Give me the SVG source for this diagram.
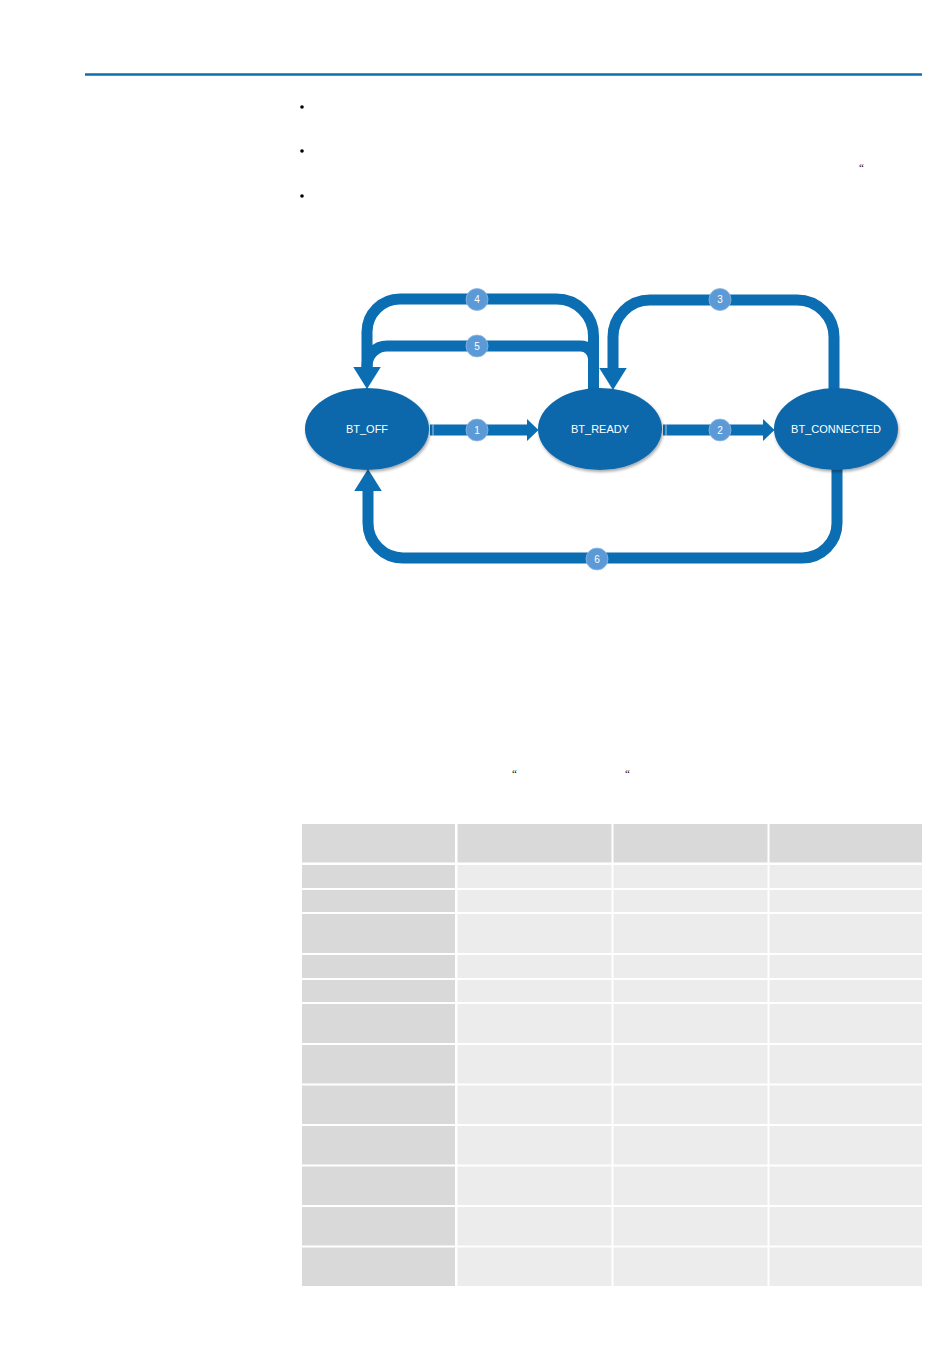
<svg xmlns="http://www.w3.org/2000/svg" width="950" height="1369" viewBox="0 0 950 1369">
<style>
.conn{fill:none;stroke:#0b6db2;stroke-width:11;stroke-linecap:butt}
.state{fill:#0a68ab}
.stxt{font-family:"Liberation Sans",Arial,sans-serif;font-size:11px;fill:#ffffff;text-anchor:middle}
.lbl{fill:#5b9ad6;stroke:#8fb8e3;stroke-width:0.8}
.ltxt{font-family:"Liberation Sans",Arial,sans-serif;font-size:10px;fill:#ffffff;text-anchor:middle}
.hd{fill:#d9d9d9}
.cell{fill:#ececec}
.bul{fill:#000000}
.q{font-family:"Liberation Serif","Times New Roman",serif;font-size:11px;fill:#000000}
</style>
<defs>
<marker id="headV" markerUnits="userSpaceOnUse" markerWidth="22" markerHeight="28" refX="0" refY="12.5" orient="auto" viewBox="0 0 20 25">
<path d="M0,0 L20,12.5 L0,25 Z" fill="#0b6db2"/>
</marker>
<marker id="headH" markerUnits="userSpaceOnUse" markerWidth="12" markerHeight="22" refX="0" refY="10.5" orient="auto" viewBox="0 0 11 21">
<path d="M0,0 L11,10.5 L0,21 Z" fill="#0b6db2"/>
</marker>
<filter id="sh" x="-20%" y="-20%" width="140%" height="150%">
<feGaussianBlur in="SourceAlpha" stdDeviation="1.5"/>
<feOffset dx="1" dy="2" result="b"/>
<feComponentTransfer><feFuncA type="linear" slope="0.35"/></feComponentTransfer>
<feMerge><feMergeNode/><feMergeNode in="SourceGraphic"/></feMerge>
</filter>
</defs>
<rect width="950" height="1369" fill="#ffffff"/>
<line x1="85" y1="74.5" x2="922" y2="74.5" stroke="#0e6db0" stroke-width="2.6"/>
<g id="bullets">
<circle class="bul" cx="302" cy="107" r="1.8"/>
<circle class="bul" cx="302" cy="151" r="1.8"/>
<circle class="bul" cx="302" cy="196" r="1.8"/>
<text class="q" x="859" y="171">“</text>
<text class="q" x="512" y="777">“</text>
<text class="q" x="625" y="777">“</text>
</g>
<g id="connectors">
<path class="conn" d="M593.5,390 L593.5,336 A37,37 0 0 0 556.5,299 L400,299 A33,33 0 0 0 367,332 L367,367" marker-end="url(#headV)"/>
<path class="conn" d="M593.5,390 L593.5,359 A13,13 0 0 0 580.5,346 L387,346 A20,20 0 0 0 367,366 L367,367"/>
<path class="conn" d="M834,389 L834,337 A37,37 0 0 0 797,300 L650,300 A37,37 0 0 0 613,337 L613,368" marker-end="url(#headV)"/>
<path class="conn" d="M837,468 L837,523 A35,35 0 0 1 802,558 L403,558 A35,35 0 0 1 368,523 L368,491" marker-end="url(#headV)"/>
<path class="conn" d="M430,430 L527,430" marker-end="url(#headH)"/>
<path class="conn" d="M663,430 L763,430" marker-end="url(#headH)"/>
<line x1="433" y1="424.5" x2="433" y2="435.5" stroke="#ffffff" stroke-width="0.8" opacity="0.8"/>
<line x1="666" y1="424.5" x2="666" y2="435.5" stroke="#ffffff" stroke-width="0.8" opacity="0.8"/>
</g>
<g id="BT_OFF">
<ellipse class="state" cx="367" cy="429" rx="62" ry="41" filter="url(#sh)"/>
<text class="stxt" x="367" y="433">BT_OFF</text>
</g>
<g id="BT_READY">
<ellipse class="state" cx="600" cy="429" rx="62" ry="41" filter="url(#sh)"/>
<text class="stxt" x="600" y="433">BT_READY</text>
</g>
<g id="BT_CONNECTED">
<ellipse class="state" cx="836" cy="429" rx="62" ry="41" filter="url(#sh)"/>
<text class="stxt" x="836" y="433">BT_CONNECTED</text>
</g>
<g id="labels">
<g id="label1"><circle class="lbl" cx="477" cy="430" r="11"/><text class="ltxt" x="477" y="433.5">1</text></g>
<g id="label2"><circle class="lbl" cx="720" cy="430" r="11"/><text class="ltxt" x="720" y="433.5">2</text></g>
<g id="label3"><circle class="lbl" cx="720" cy="299.5" r="11"/><text class="ltxt" x="720" y="303">3</text></g>
<g id="label4"><circle class="lbl" cx="477" cy="299.5" r="11"/><text class="ltxt" x="477" y="303">4</text></g>
<g id="label5"><circle class="lbl" cx="477" cy="346" r="11"/><text class="ltxt" x="477" y="349.5">5</text></g>
<g id="label6"><circle class="lbl" cx="597" cy="559" r="11"/><text class="ltxt" x="597" y="562.5">6</text></g>
</g>
<g id="table">
<rect class="hd" x="302" y="824" width="153" height="38.5"/>
<rect class="hd" x="457.5" y="824" width="154" height="38.5"/>
<rect class="hd" x="613.5" y="824" width="154" height="38.5"/>
<rect class="hd" x="769.5" y="824" width="152.5" height="38.5"/>
<g id="rows">
<rect class="hd" x="302" y="865" width="153" height="23"/><rect class="cell" x="457.5" y="865" width="154" height="23"/><rect class="cell" x="613.5" y="865" width="154" height="23"/><rect class="cell" x="769.5" y="865" width="152.5" height="23"/>
<rect class="hd" x="302" y="890" width="153" height="22"/><rect class="cell" x="457.5" y="890" width="154" height="22"/><rect class="cell" x="613.5" y="890" width="154" height="22"/><rect class="cell" x="769.5" y="890" width="152.5" height="22"/>
<rect class="hd" x="302" y="914" width="153" height="39"/><rect class="cell" x="457.5" y="914" width="154" height="39"/><rect class="cell" x="613.5" y="914" width="154" height="39"/><rect class="cell" x="769.5" y="914" width="152.5" height="39"/>
<rect class="hd" x="302" y="955" width="153" height="23"/><rect class="cell" x="457.5" y="955" width="154" height="23"/><rect class="cell" x="613.5" y="955" width="154" height="23"/><rect class="cell" x="769.5" y="955" width="152.5" height="23"/>
<rect class="hd" x="302" y="980" width="153" height="22"/><rect class="cell" x="457.5" y="980" width="154" height="22"/><rect class="cell" x="613.5" y="980" width="154" height="22"/><rect class="cell" x="769.5" y="980" width="152.5" height="22"/>
<rect class="hd" x="302" y="1004" width="153" height="39"/><rect class="cell" x="457.5" y="1004" width="154" height="39"/><rect class="cell" x="613.5" y="1004" width="154" height="39"/><rect class="cell" x="769.5" y="1004" width="152.5" height="39"/>
<rect class="hd" x="302" y="1045" width="153" height="38.5"/><rect class="cell" x="457.5" y="1045" width="154" height="38.5"/><rect class="cell" x="613.5" y="1045" width="154" height="38.5"/><rect class="cell" x="769.5" y="1045" width="152.5" height="38.5"/>
<rect class="hd" x="302" y="1085.5" width="153" height="38.5"/><rect class="cell" x="457.5" y="1085.5" width="154" height="38.5"/><rect class="cell" x="613.5" y="1085.5" width="154" height="38.5"/><rect class="cell" x="769.5" y="1085.5" width="152.5" height="38.5"/>
<rect class="hd" x="302" y="1126" width="153" height="38.5"/><rect class="cell" x="457.5" y="1126" width="154" height="38.5"/><rect class="cell" x="613.5" y="1126" width="154" height="38.5"/><rect class="cell" x="769.5" y="1126" width="152.5" height="38.5"/>
<rect class="hd" x="302" y="1166.5" width="153" height="38.5"/><rect class="cell" x="457.5" y="1166.5" width="154" height="38.5"/><rect class="cell" x="613.5" y="1166.5" width="154" height="38.5"/><rect class="cell" x="769.5" y="1166.5" width="152.5" height="38.5"/>
<rect class="hd" x="302" y="1207" width="153" height="38.5"/><rect class="cell" x="457.5" y="1207" width="154" height="38.5"/><rect class="cell" x="613.5" y="1207" width="154" height="38.5"/><rect class="cell" x="769.5" y="1207" width="152.5" height="38.5"/>
<rect class="hd" x="302" y="1247.5" width="153" height="38.5"/><rect class="cell" x="457.5" y="1247.5" width="154" height="38.5"/><rect class="cell" x="613.5" y="1247.5" width="154" height="38.5"/><rect class="cell" x="769.5" y="1247.5" width="152.5" height="38.5"/>
</g>
</g>
</svg>
